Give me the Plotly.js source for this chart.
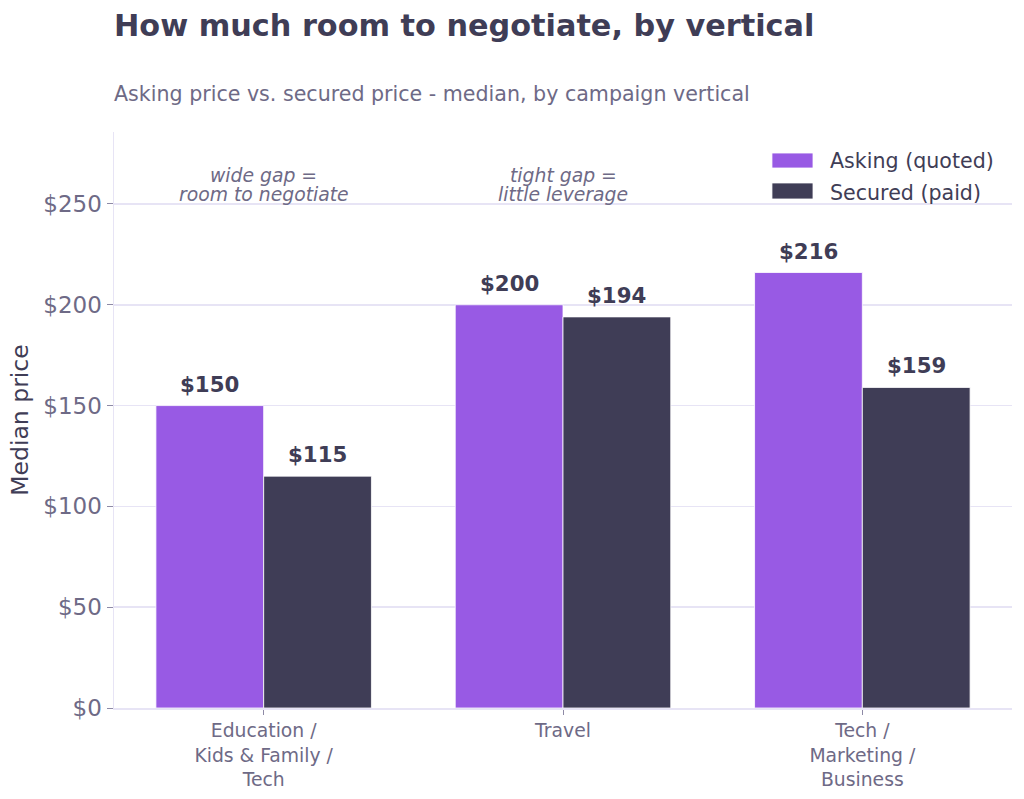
<!DOCTYPE html>
<html>
<head>
<meta charset="utf-8">
<script src="https://cdn.plot.ly/plotly-3.0.1.min.js"></script>
<style>html,body{margin:0;padding:0;background:#fff;}#chart{width:1024px;height:799px;}</style>
</head>
<body>
<div id="chart"></div>
<script>
var categories = ["Education /<br>Kids & Family /<br>Tech", "Travel", "Tech /<br>Marketing /<br>Business"];
var asking = [150, 200, 216];
var secured = [115, 194, 159];
var seriesNames = ["Asking (quoted)", "Secured (paid)"];
var noteLine1 = ["wide gap =", "tight gap ="];
var noteLine2 = ["room to negotiate", "little leverage"];
var yTicks = [0, 50, 100, 150, 200, 250];

var PURPLE = "#985ae4";
var DARK = "#3f3d56";
var MUTED = "#6e6a86";
var GRID = "#e7e4f5";
var FONT = "DejaVu Sans, Verdana, sans-serif";

var idx = categories.map(function (c, i) { return i; });

var traces = [
  {type: "bar", x: idx, y: asking, name: seriesNames[0], marker: {color: PURPLE, line: {color: "#ffffff", width: 0.8}}, showlegend: false, hoverinfo: "skip"},
  {type: "bar", x: idx, y: secured, name: seriesNames[1], marker: {color: DARK, line: {color: "#ffffff", width: 0.8}}, showlegend: false, hoverinfo: "skip"}
];

var annotations = [];
var half = 0.18;
var valFont = {family: FONT, size: 21.3, color: DARK};
asking.forEach(function (v, i) {
  annotations.push({x: i - half, y: v, xref: "x", yref: "y", text: "<b>$" + v + "</b>", showarrow: false,
    yanchor: "bottom", yshift: 7, font: valFont});
});
secured.forEach(function (v, i) {
  annotations.push({x: i + half, y: v, xref: "x", yref: "y", text: "<b>$" + v + "</b>", showarrow: false,
    yanchor: "bottom", yshift: 7, font: valFont});
});
var noteFont = {family: FONT, size: 18.8, color: MUTED};
noteLine1.forEach(function (t, i) {
  annotations.push({x: i, y: 264.1, xref: "x", yref: "y", text: "<i>" + t + "</i>", showarrow: false,
    yanchor: "middle", font: noteFont});
  annotations.push({x: i, y: 254.7, xref: "x", yref: "y", text: "<i>" + noteLine2[i] + "</i>", showarrow: false,
    yanchor: "middle", font: noteFont});
});
// subtitle
annotations.push({x: 0, y: 1.066, xref: "paper", yref: "paper", xanchor: "left", yanchor: "middle", xshift: -2,
  text: "Asking price vs. secured price - median, by campaign vertical", showarrow: false,
  font: {family: FONT, size: 20.6, color: MUTED}});
// custom legend text
var legFont = {family: FONT, size: 20.6, color: DARK};
annotations.push({x: 0.7973, y: 0.9497, xref: "paper", yref: "paper", xanchor: "left", yanchor: "middle", xshift: -2,
  text: seriesNames[0], showarrow: false, font: legFont});
annotations.push({x: 0.7973, y: 0.8976, xref: "paper", yref: "paper", xanchor: "left", yanchor: "middle", xshift: -2, yshift: -2,
  text: seriesNames[1], showarrow: false, font: legFont});

var shapes = [
  {type: "rect", xref: "paper", yref: "paper", x0: 0.7327, x1: 0.7784, y0: 0.9375, y1: 0.9635,
    fillcolor: PURPLE, line: {width: 0.8, color: "#ffffff"}},
  {type: "rect", xref: "paper", yref: "paper", x0: 0.7327, x1: 0.7784, y0: 0.8837, y1: 0.9115,
    fillcolor: DARK, line: {width: 0.8, color: "#ffffff"}}
];

var layout = {
  width: 1024, height: 799,
  margin: {l: 114, r: 12, t: 132, b: 91},
  paper_bgcolor: "#ffffff", plot_bgcolor: "#ffffff",
  font: {family: FONT, color: MUTED},
  title: {text: "<b>How much room to negotiate, by vertical</b>", x: 0, xref: "paper", xanchor: "left",
    y: 1 - 25 / 799, yref: "container", yanchor: "middle", font: {family: FONT, size: 30.3, color: DARK}},
  barmode: "group", bargap: 0.28, bargroupgap: 0,
  showlegend: false,
  xaxis: {
    range: [-0.5, 2.5], tickmode: "array", tickvals: idx, ticktext: categories,
    showgrid: false, zeroline: false, showline: true, linecolor: GRID, linewidth: 1.5,
    ticks: "outside", ticklen: 5, tickcolor: "#8e8aa6", tickwidth: 1,
    tickfont: {family: FONT, size: 18.8, color: MUTED}, fixedrange: true
  },
  yaxis: {
    range: [0, 285.7], tickmode: "array", tickvals: yTicks,
    ticktext: yTicks.map(function (v) { return "$" + v; }),
    showgrid: true, gridcolor: GRID, gridwidth: 1.5, zeroline: false,
    showline: true, linecolor: GRID, linewidth: 1.5,
    ticks: "outside", ticklen: 6, tickcolor: "#8e8aa6", tickwidth: 1,
    tickfont: {family: FONT, size: 23, color: MUTED},
    title: {text: "Median price", font: {family: FONT, size: 23.5, color: DARK}, standoff: 8},
    fixedrange: true
  },
  annotations: annotations,
  shapes: shapes,
  hovermode: false
};

Plotly.newPlot("chart", traces, layout, {displayModeBar: false, staticPlot: true});
</script>
</body>
</html>
